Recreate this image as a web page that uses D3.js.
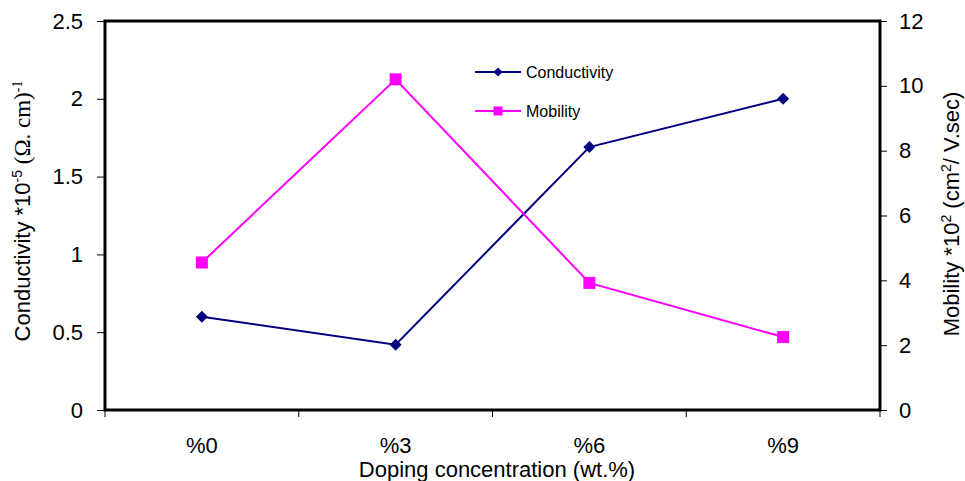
<!DOCTYPE html>
<html>
<head>
<meta charset="utf-8">
<script src="https://cdn.jsdelivr.net/npm/d3@7"></script>
<style>
  body { margin: 0; background: #fff; }
  text { font-family: "Liberation Sans", Arial, sans-serif; }
</style>
</head>
<body>
<svg id="chart" width="965" height="481"></svg>
<script>
const categories = ["%0", "%3", "%6", "%9"];
const conductivity = [0.6, 0.42, 1.69, 2.0];
const mobility = [4.55, 10.2, 3.92, 2.25];
const leftTicks = [0, 0.5, 1, 1.5, 2, 2.5];
const rightTicks = [0, 2, 4, 6, 8, 10, 12];

const margin = { top: 21, right: 85, bottom: 71, left: 105 };
const width = 965 - margin.left - margin.right;
const height = 481 - margin.top - margin.bottom;

const svg = d3.select("#chart");
const g = svg.append("g").attr("transform", `translate(${margin.left},${margin.top})`);

const x = d3.scaleBand().domain(categories).range([0, width]).padding(0);
const yL = d3.scaleLinear().domain([0, 2.5]).range([height, 0]);
const yR = d3.scaleLinear().domain([0, 12]).range([height, 0]);

// x axis: ticks at category boundaries
const xAxisG = g.append("g").attr("transform", `translate(0,${height})`);
const bounds = categories.map((c) => x(c)).concat([width]);
xAxisG.selectAll("line").data(bounds).enter().append("line")
  .attr("x1", (d) => d).attr("x2", (d) => d)
  .attr("y1", 0).attr("y2", 7)
  .attr("stroke", "#000").attr("stroke-width", 1);
xAxisG.selectAll("text").data(categories).enter().append("text")
  .attr("x", (d) => x(d) + x.bandwidth() / 2)
  .attr("y", 43)
  .attr("text-anchor", "middle")
  .style("font-size", "22px")
  .text((d) => d);

const leftAxis = g.append("g")
  .call(d3.axisLeft(yL).tickValues(leftTicks).tickSize(8).tickPadding(14).tickFormat((d) => d));
leftAxis.select(".domain").remove();
leftAxis.selectAll("text").style("font-size", "22px").attr("fill", "#000");

const rightAxis = g.append("g").attr("transform", `translate(${width},0)`)
  .call(d3.axisRight(yR).tickValues(rightTicks).tickSize(7).tickPadding(12));
rightAxis.select(".domain").remove();
rightAxis.selectAll("text").style("font-size", "22px").attr("fill", "#000");

// frame
g.append("rect")
  .attr("width", width).attr("height", height)
  .attr("fill", "none").attr("stroke", "#000").attr("stroke-width", 3);

// lines
const cx = (i) => x(categories[i]) + x.bandwidth() / 2;
const lineC = d3.line().x((d, i) => cx(i)).y((d) => yL(d));
const lineM = d3.line().x((d, i) => cx(i)).y((d) => yR(d));

g.append("path").datum(conductivity)
  .attr("fill", "none").attr("stroke", "#000080").attr("stroke-width", 2).attr("d", lineC);
g.append("path").datum(mobility)
  .attr("fill", "none").attr("stroke", "#ff00ff").attr("stroke-width", 2).attr("d", lineM);

const sq = d3.symbol().type(d3.symbolSquare);
g.selectAll(".pc").data(conductivity).enter().append("path")
  .attr("class", "pc")
  .attr("d", sq.size(72)())
  .attr("transform", (d, i) => `translate(${cx(i)},${yL(d)}) rotate(45)`)
  .attr("fill", "#000080");

g.selectAll(".pm").data(mobility).enter().append("path")
  .attr("class", "pm")
  .attr("d", sq.size(144)())
  .attr("transform", (d, i) => `translate(${cx(i)},${yR(d)})`)
  .attr("fill", "#ff00ff");

// legend
const legend = svg.append("g").attr("transform", "translate(475,72)");
const legendItems = [
  { name: "Conductivity", color: "#000080", size: 40, rot: 45 },
  { name: "Mobility", color: "#ff00ff", size: 81, rot: 0 },
];
const li = legend.selectAll("g").data(legendItems).enter().append("g")
  .attr("transform", (d, i) => `translate(0,${i * 39})`);
li.append("line").attr("x1", 0).attr("x2", 46).attr("y1", 0).attr("y2", 0)
  .attr("stroke", (d) => d.color).attr("stroke-width", 2);
li.append("path")
  .attr("d", (d) => d3.symbol().type(d3.symbolSquare).size(d.size)())
  .attr("transform", (d) => `translate(23,0) rotate(${d.rot})`)
  .attr("fill", (d) => d.color);
li.append("text").attr("x", 51).attr("y", 0).attr("dy", "0.35em")
  .style("font-size", "16px").text((d) => d.name);

// axis titles
svg.append("text")
  .attr("x", 497).attr("y", 477)
  .attr("text-anchor", "middle").style("font-size", "22px")
  .text("Doping concentration (wt.%)");

const tl = svg.append("text")
  .attr("transform", "translate(30,211) rotate(-90)")
  .attr("text-anchor", "middle").style("font-size", "22px");
tl.append("tspan").text("Conductivity *10");
tl.append("tspan").attr("dy", -8).style("font-size", "14px").text("-5");
tl.append("tspan").attr("dy", 8).style("font-family", "'Liberation Serif', serif").style("font-size", "23px").text(" (Ω. cm)");
tl.append("tspan").attr("dy", -8).style("font-size", "14px").style("font-family", "'Liberation Serif', serif").text("-1");

const tr = svg.append("text")
  .attr("transform", "translate(959,214) rotate(-90)")
  .attr("text-anchor", "middle").style("font-size", "22px");
tr.append("tspan").text("Mobility *10");
tr.append("tspan").attr("dy", -8).style("font-size", "14px").text("2");
tr.append("tspan").attr("dy", 8).text(" (cm");
tr.append("tspan").attr("dy", -8).style("font-size", "14px").text("2");
tr.append("tspan").attr("dy", 8).text("/ V.sec)");
</script>
</body>
</html>
